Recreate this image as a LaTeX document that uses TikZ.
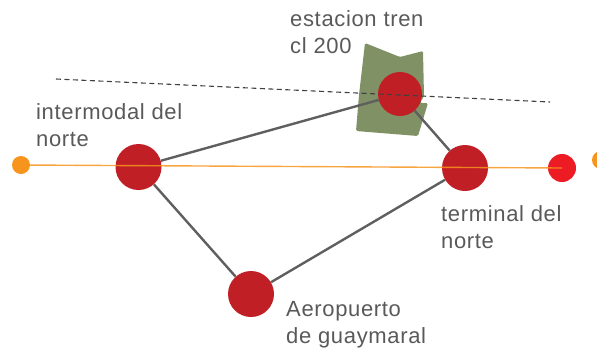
\documentclass[tikz,border=0pt]{standalone}
\usepackage{fontspec}
\setmainfont[LetterSpace=3]{Liberation Sans}
\begin{document}
\begin{tikzpicture}[x=1pt, y=-1pt,
  stop/.style = {circle, inner sep = 0pt, minimum size = #1},
  lbl/.style = {anchor = north west, align = left, inner sep = 0pt, text = textgrey, font = \fontsize{22}{27}\selectfont},
  link/.style = {draw = linkgrey, line width = 2.4pt}]
\definecolor{textgrey}{HTML}{595959}
\definecolor{linkgrey}{HTML}{5F5F5F}
\definecolor{stopred}{HTML}{C11F26}
\definecolor{endred}{HTML}{ED1C24}
\definecolor{lineorange}{HTML}{F7941D}
\definecolor{zonegreen}{HTML}{7F9165}
\clip (0, 0) rectangle (597, 354);
\useasboundingbox (0, 0) rectangle (597, 354);
\fill[zonegreen, rounded corners = 1.5pt] (365, 43) -- (400, 57) -- (423, 51) -- (424, 96) -- (420, 103) -- (428, 103) -- (418, 136) -- (356, 131) -- (359, 95) -- cycle;
\coordinate (dashstart) at (56, 79);
\coordinate (dashend) at (550, 102);
\node[stop = 46pt] (intermodal) at (138.5, 167) {};
\node[stop = 44pt] (estacion) at (400, 94) {};
\node[stop = 46pt] (terminal) at (465, 168) {};
\node[stop = 46pt] (aeropuerto) at (251, 294) {};
\node[stop = 28pt, fill = endred] (endright) at (562, 168) {};
\node[stop = 18pt, fill = lineorange] (endleft) at (21, 165) {};
\node[stop = 18pt, fill = lineorange] (endfar) at (601, 160) {};
\draw[link] (intermodal) -- (estacion);
\draw[link] (estacion) -- (terminal);
\draw[link] (intermodal) -- (aeropuerto);
\draw[link] (aeropuerto) -- (terminal);
\fill[stopred] (intermodal.center) circle (23);
\fill[stopred] (estacion.center) circle (22);
\fill[stopred] (terminal.center) circle (23);
\fill[stopred] (aeropuerto.center) circle (23);
\draw[lineorange, line width = 1.4pt, opacity = 0.85] (endleft.center) -- (endright.center);
\draw[black!75, line width = 1.1pt, dash pattern = on 5pt off 3.5pt] (dashstart) -- (dashend);
\node[lbl] (labelestacion) at (290, 10) {estacion tren\\cl 200};
\node[lbl] (labelintermodal) at (36, 103) {intermodal del\\norte};
\node[lbl] (labelterminal) at (441, 205) {terminal del\\norte};
\node[lbl] (labelaeropuerto) at (286, 301) {Aeropuerto\\de guaymaral};
\end{tikzpicture}
\end{document}
